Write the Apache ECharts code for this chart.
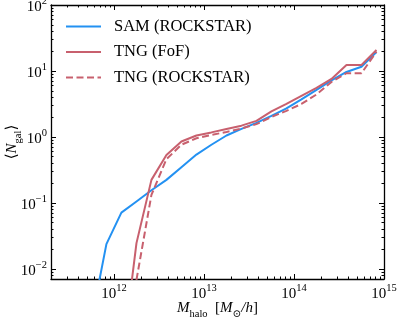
<!DOCTYPE html>
<html><head><meta charset="utf-8">
<script src="https://cdn.jsdelivr.net/npm/echarts@6/dist/echarts.min.js"></script>
<style>html,body{margin:0;padding:0;background:#fff}#c{width:399px;height:320px}</style>
</head><body><div id="c"></div>
<script>
// Halo mass bin centres (M_sun/h)
const haloMass = [5.62e11, 8.25e11, 1.21e12, 1.78e12, 2.61e12, 3.83e12, 5.62e12, 8.25e12,
  1.21e13, 1.78e13, 2.61e13, 3.83e13, 5.62e13, 8.25e13, 1.21e14, 1.78e14, 2.61e14,
  3.83e14, 5.62e14, 8.25e14];
const samRockstar = [0.0016, 0.0237, 0.071, 0.105, 0.155, 0.223, 0.347, 0.54, 0.76, 1.05,
  1.32, 1.63, 2.08, 2.70, 3.70, 5.15, 7.18, 9.66, 11.6, 19.4];
const tngFof = [null, null, 3.5e-4, 0.0245, 0.223, 0.53, 0.85, 1.05, 1.17, 1.32,
  1.48, 1.75, 2.43, 3.16, 4.18, 5.53, 7.56, 12.3, 12.3, 20.8];
const tngRockstar = [null, null, null, 0.0068, 0.132, 0.46, 0.76, 0.955, 1.07, 1.19,
  1.34, 1.56, 2.01, 2.48, 3.16, 4.4, 6.8, 9.23, 9.23, 19.6];
const seriesNames = ['SAM (ROCKSTAR)', 'TNG (FoF)', 'TNG (ROCKSTAR)'];
const xTickValues = [1e12, 1e13, 1e14, 1e15];
const yTickValues = [1e-2, 1e-1, 1e0, 1e1, 1e2];
const xRange = [2e11, 1.000001e15];
const yRange = [0.007, 100.0001];

function minorTicks(range) {
  const out = [];
  const lo = Math.floor(Math.log10(range[0])), hi = Math.floor(Math.log10(range[1]));
  for (let e = lo; e < hi; e++) for (let m = 2; m <= 9; m++) {
    const v = m * Math.pow(10, e);
    if (v >= range[0] && v <= range[1]) out.push(v);
  }
  return out;
}
const xMinor = minorTicks(xRange), yMinor = minorTicks(yRange);
const FONT = '"Liberation Serif","DejaVu Serif",serif';
const supRich = {
  b: {fontFamily: FONT, fontSize: 15, color: '#000', lineHeight: 19, verticalAlign: 'bottom'},
  s: {fontFamily: FONT, fontSize: 10.5, color: '#000', lineHeight: 11, verticalAlign: 'top'}
};
function powLabel(v) {
  const e = Math.round(Math.log10(v));
  return '{b|10}{s|' + (e < 0 ? '\u2212' + (-e) : e) + '}';
}
const subRich = {
  n: {fontFamily: FONT, fontSize: 15, color: '#000', lineHeight: 19, verticalAlign: 'top'},
  i: {fontFamily: FONT, fontSize: 15, fontStyle: 'italic', color: '#000', lineHeight: 19, verticalAlign: 'top'},
  u: {fontFamily: FONT, fontSize: 10.5, color: '#000', lineHeight: 11, verticalAlign: 'bottom'}
};
const black = {color: '#000', width: 1.3};
function xAx(pos, major, withLabel) {
  const a = {
    type: 'log', logBase: 10, min: xRange[0], max: xRange[1], position: pos, gridIndex: 0,
    axisLine: {show: major, lineStyle: black},
    axisTick: {show: true, inside: true, length: major ? 5 : 2.5, customValues: major ? xTickValues : xMinor,
      lineStyle: {color: '#000', width: 1}},
    axisLabel: {show: !!withLabel},
    splitLine: {show: false}, minorTick: {show: false}
  };
  if (withLabel) {
    a.axisLabel = {show: true, customValues: xTickValues, formatter: powLabel, rich: supRich, margin: 4,
      showMinLabel: true, showMaxLabel: true, hideOverlap: false};
    a.name = '{i|M}{u|halo}{n|  [}{i|M}{u|\u2299}{i|/h}{n|]}';
    a.nameLocation = 'middle';
    a.nameGap = 22;
    a.nameMoveOverlap = false;
    a.nameTextStyle = {rich: subRich};
  }
  return a;
}
function yAx(pos, major, withLabel) {
  const a = {
    type: 'log', logBase: 10, min: yRange[0], max: yRange[1], position: pos, gridIndex: 0,
    axisLine: {show: major, lineStyle: black},
    axisTick: {show: true, inside: true, length: major ? 5 : 2.5, customValues: major ? yTickValues : yMinor,
      lineStyle: {color: '#000', width: 1}},
    axisLabel: {show: !!withLabel},
    splitLine: {show: false}, minorTick: {show: false}
  };
  if (withLabel) {
    a.axisLabel = {show: true, customValues: yTickValues, formatter: powLabel, rich: supRich, margin: 4,
      showMinLabel: true, showMaxLabel: true, hideOverlap: false};
    a.name = '{n|\u27E8}{i|N}{u|gal}{n|\u27E9}';
    a.nameLocation = 'middle';
    a.nameGap = 27;
    a.nameMoveOverlap = false;
    a.nameRotate = 90;
    a.nameTextStyle = {rich: subRich};
  }
  return a;
}
const colors = ['#2391f2', '#c8606e', '#c8606e'];
const values = [samRockstar, tngFof, tngRockstar];
const series = values.map((vals, k) => ({
  name: seriesNames[k], type: 'line', xAxisIndex: 0, yAxisIndex: 0,
  showSymbol: false, symbol: 'none', clip: true,
  data: haloMass.map((m, i) => [m, vals[i]]).filter(d => d[1] != null),
  lineStyle: {color: colors[k], width: 2, type: k === 2 ? [7, 3.5] : 'solid'},
  itemStyle: {color: colors[k]},
  z: 3 + k
}));
const chart = echarts.init(document.getElementById('c'), null, {renderer: 'canvas'});
chart.setOption({
  animation: false,
  backgroundColor: '#fff',
  grid: {left: 51, right: 15, top: 5, bottom: 41, containLabel: false, outerBoundsMode: 'none'},
  legend: {
    orient: 'vertical', left: 60, top: 13, itemWidth: 35, itemHeight: 14, itemGap: 8.5,
    itemStyle: {opacity: 0},
    textStyle: {fontFamily: FONT, fontSize: 16.5, color: '#000', padding: [0, 0, 0, 8]},
    data: seriesNames
  },
  xAxis: [xAx('bottom', true, true), xAx('bottom', false), xAx('top', true), xAx('top', false)],
  yAxis: [yAx('left', true, true), yAx('left', false), yAx('right', true), yAx('right', false)],
  series: series
});
</script></body></html>
